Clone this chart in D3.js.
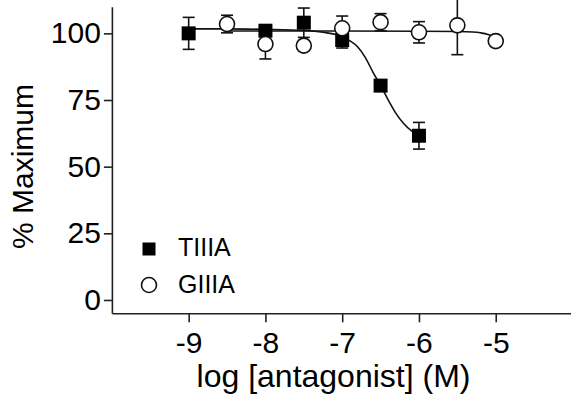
<!DOCTYPE html>
<html><head><meta charset="utf-8">
<script src="https://cdn.jsdelivr.net/npm/d3@7"></script>
<style>
body{margin:0;background:#fff;}
text{font-family:"Liberation Sans",Arial,sans-serif;fill:#000;}
</style></head>
<body><svg id="c" width="571" height="399"></svg>
<script>
// Data
const xTicks = [-9, -8, -7, -6, -5];
const yTicks = [0, 25, 50, 75, 100];
const tiiiaX = [-9, -8, -7.5, -7, -6.5, -6];
const tiiiaY = [100, 101, 104, 97.5, 80.4, 61.6];
const tiiiaErr = [6, 2, 5.5, 3, 1, 5];
const giiiaX = [-8.5, -8, -7.5, -7, -6.5, -6, -5.5, -5];
const giiiaY = [103.5, 96, 95.4, 101.9, 104.2, 100.4, 103, 97.1];
const giiiaErr = [3.3, 5.6, 1, 4.6, 3.2, 4, 11, 0];
// fitted curves
const tiiiaFitX = [-9, -8.5, -8, -7.5, -7.25, -7, -6.9, -6.8, -6.7, -6.6, -6.5, -6.4, -6.3, -6.2, -6.1, -6];
const tiiiaFitY = [101.7, 101.7, 101.5, 101.1, 100.4, 98.8, 97.2, 95, 91, 85.5, 80.4, 75, 70, 66.2, 63.5, 61.6];
const giiiaFitX = [-8.5, -8, -7, -6, -5.5, -5.3, -5.2, -5.1, -5.03];
const giiiaFitY = [100.9, 100.9, 100.9, 100.8, 100.7, 100.5, 100.2, 99.6, 98.8];
const seriesNames = ["TIIIA", "GIIIA"];

const svg = d3.select("#c");
const x = d3.scaleLinear().domain([-10, -4]).range([111.9, 572.5]);
const y = d3.scaleLinear().domain([-5, 110]).range([313.3, 6.7]);

// axes
const xAx = svg.append("g").attr("transform", `translate(0,${y(-5)})`)
  .call(d3.axisBottom(x).tickValues(xTicks).tickFormat(d3.format("d")).tickSize(9).tickPadding(9).tickSizeOuter(0));
const yAx = svg.append("g").attr("transform", `translate(${x(-10)},0)`)
  .call(d3.axisLeft(y).tickValues(yTicks).tickSize(8).tickPadding(3).tickSizeOuter(0));
[xAx, yAx].forEach(g => {
  g.selectAll("path,line").attr("stroke", "#222").attr("stroke-width", 1.6);
  g.selectAll("text").attr("font-size", 30).attr("font-family", '"Liberation Sans",Arial,sans-serif').attr("fill", "#000");
});
xAx.selectAll("text").text(d => String(d).replace("\u2212", "-"));

svg.append("text").attr("x", 333.5).attr("y", 386.5).attr("text-anchor", "middle")
  .attr("font-size", 32).text("log [antagonist] (M)");
svg.append("text").attr("transform", "translate(33,166.5) rotate(-90)").attr("text-anchor", "middle")
  .attr("font-size", 30).text("% Maximum");

// curves
const line = d3.line().x(d => x(d[0])).y(d => y(d[1])).curve(d3.curveMonotoneX);
svg.append("path").datum(tiiiaFitX.map((v, i) => [v, tiiiaFitY[i]]))
  .attr("d", line).attr("fill", "none").attr("stroke", "#111").attr("stroke-width", 1.6);
svg.append("path").datum(giiiaFitX.map((v, i) => [v, giiiaFitY[i]]))
  .attr("d", line).attr("fill", "none").attr("stroke", "#111").attr("stroke-width", 1.6);

function errBars(xs, ys, es) {
  const g = svg.append("g").attr("stroke", "#111").attr("stroke-width", 1.6);
  xs.forEach((xv, i) => {
    if (!es[i]) return;
    const cx = x(xv), y1 = y(ys[i] - es[i]), y2 = y(ys[i] + es[i]);
    g.append("line").attr("x1", cx).attr("x2", cx).attr("y1", y1).attr("y2", y2);
    g.append("line").attr("x1", cx - 6).attr("x2", cx + 6).attr("y1", y1).attr("y2", y1);
    g.append("line").attr("x1", cx - 6).attr("x2", cx + 6).attr("y1", y2).attr("y2", y2);
  });
}
errBars(tiiiaX, tiiiaY, tiiiaErr);
errBars(giiiaX, giiiaY, giiiaErr);

const sq = 14;
svg.append("g").selectAll("rect").data(tiiiaX.map((v, i) => [v, tiiiaY[i]])).join("rect")
  .attr("x", d => x(d[0]) - sq / 2).attr("y", d => y(d[1]) - sq / 2)
  .attr("width", sq).attr("height", sq).attr("fill", "#000");
svg.append("g").selectAll("circle").data(giiiaX.map((v, i) => [v, giiiaY[i]])).join("circle")
  .attr("cx", d => x(d[0])).attr("cy", d => y(d[1])).attr("r", 7.5)
  .attr("fill", "#fff").attr("stroke", "#111").attr("stroke-width", 1.6);

// legend
svg.append("rect").attr("x", 142.5).attr("y", 242.5).attr("width", 13).attr("height", 13).attr("fill", "#000");
svg.append("circle").attr("cx", 149).attr("cy", 285).attr("r", 7.5)
  .attr("fill", "#fff").attr("stroke", "#111").attr("stroke-width", 1.6);
svg.append("text").attr("x", 178).attr("y", 256).attr("font-size", 25).text(seriesNames[0]);
svg.append("text").attr("x", 178).attr("y", 292.5).attr("font-size", 25).text(seriesNames[1]);
</script></body></html>
